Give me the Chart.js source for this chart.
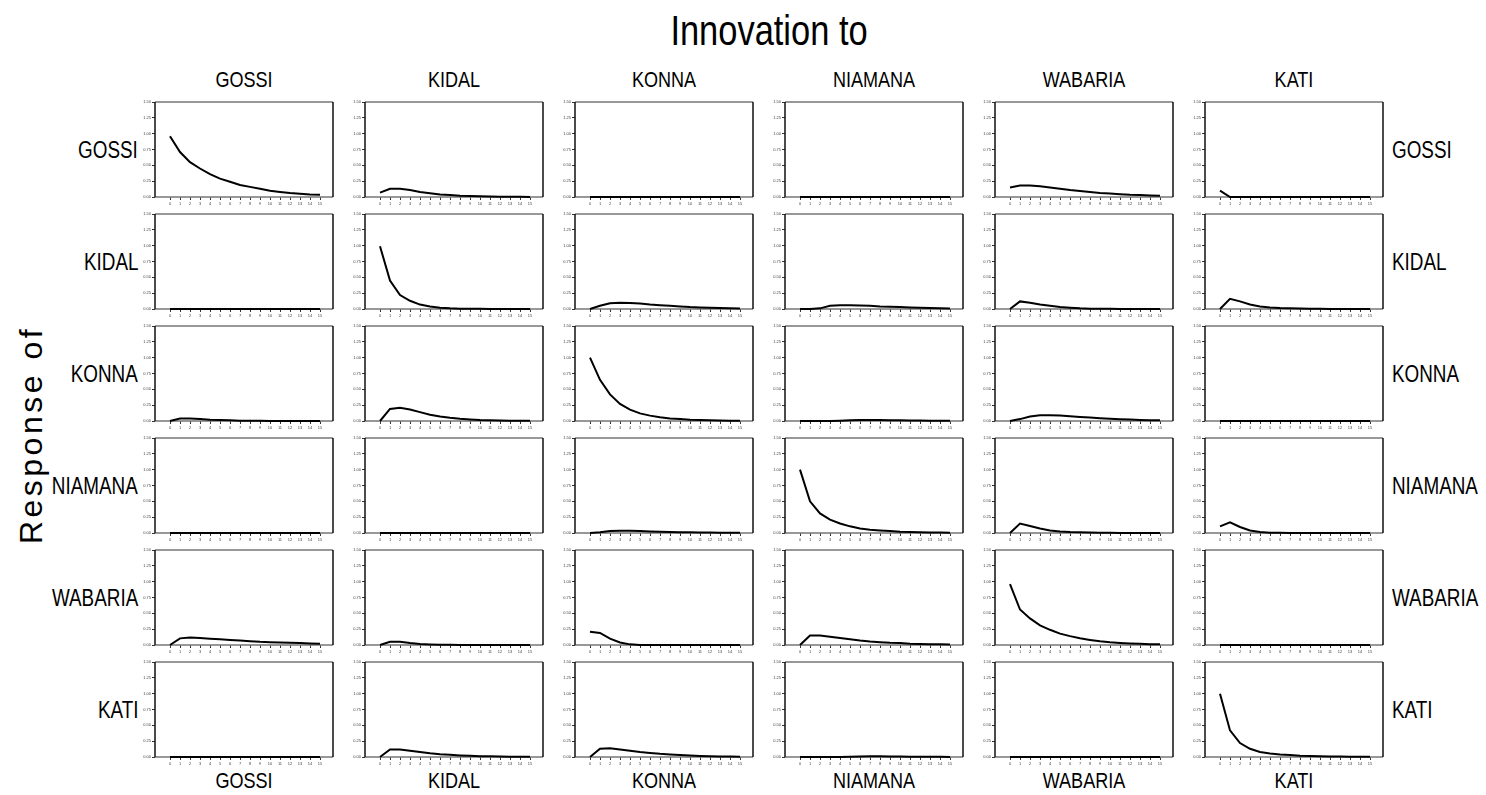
<!DOCTYPE html>
<html>
<head>
<meta charset="utf-8">
<title>Impulse responses</title>
<script src="https://cdn.jsdelivr.net/npm/chart.js@4.4.0/dist/chart.umd.min.js"></script>
<style>
  body { margin: 0; background: #fff; }
  #wrap { position: relative; width: 1486px; height: 795px; overflow: hidden;
          font-family: "Liberation Sans", Arial, sans-serif; color: #000; }
  .lbl { position: absolute; white-space: nowrap; line-height: 1; }
  .panel { position: absolute; }
</style>
</head>
<body>
<div id="wrap"></div>
<script>
// region names (rows = response of, columns = innovation to)
const regions = ["GOSSI", "KIDAL", "KONNA", "NIAMANA", "WABARIA", "KATI"];
const horizon = [0, 1, 2, 3, 4, 5, 6, 7, 8, 9, 10, 11, 12, 13, 14, 15];
const yTicks = [0, 0.25, 0.5, 0.75, 1.0, 1.25, 1.5];

// response of GOSSI to innovations in each region
const respGOSSI = [
  [0.96, 0.71, 0.55, 0.45, 0.36, 0.29, 0.24, 0.19, 0.16, 0.13, 0.10, 0.08, 0.063, 0.05, 0.04, 0.035],
  [0.07, 0.13, 0.13, 0.11, 0.08, 0.06, 0.04, 0.03, 0.02, 0.015, 0.01, 0.007, 0.005, 0.003, 0.002, 0.001],
  [0, 0, 0, 0, 0, 0, 0, 0, 0, 0, 0, 0, 0, 0, 0, 0],
  [0, 0, 0, 0, 0, 0, 0, 0, 0, 0, 0, 0, 0, 0, 0, 0],
  [0.15, 0.18, 0.18, 0.17, 0.15, 0.13, 0.11, 0.095, 0.08, 0.065, 0.055, 0.045, 0.035, 0.03, 0.025, 0.02],
  [0.10, 0, 0, 0, 0, 0, 0, 0, 0, 0, 0, 0, 0, 0, 0, 0]
];
// response of KIDAL
const respKIDAL = [
  [0, 0, 0, 0, 0, 0, 0, 0, 0, 0, 0, 0, 0, 0, 0, 0],
  [0.99, 0.45, 0.22, 0.13, 0.07, 0.04, 0.02, 0.01, 0.005, 0.003, 0.002, 0.001, 0, 0, 0, 0],
  [0, 0.05, 0.09, 0.10, 0.095, 0.085, 0.07, 0.06, 0.05, 0.04, 0.03, 0.025, 0.02, 0.015, 0.01, 0.008],
  [0, 0, 0.01, 0.05, 0.06, 0.06, 0.055, 0.05, 0.04, 0.035, 0.03, 0.025, 0.02, 0.015, 0.01, 0.008],
  [0, 0.12, 0.10, 0.07, 0.05, 0.03, 0.02, 0.01, 0.005, 0.003, 0.002, 0.001, 0, 0, 0, 0],
  [0, 0.16, 0.12, 0.07, 0.04, 0.025, 0.015, 0.01, 0.006, 0.004, 0.002, 0.001, 0, 0, 0, 0]
];
// response of KONNA
const respKONNA = [
  [0, 0.04, 0.04, 0.03, 0.02, 0.015, 0.01, 0.005, 0.003, 0.002, 0.001, 0, 0, 0, 0, 0],
  [0, 0.19, 0.21, 0.18, 0.14, 0.10, 0.07, 0.05, 0.035, 0.025, 0.015, 0.01, 0.007, 0.005, 0.003, 0.002],
  [1.0, 0.65, 0.42, 0.27, 0.18, 0.12, 0.085, 0.06, 0.04, 0.03, 0.02, 0.015, 0.01, 0.007, 0.005, 0.003],
  [0, 0, 0, 0, 0.005, 0.01, 0.015, 0.015, 0.015, 0.012, 0.01, 0.008, 0.006, 0.005, 0.004, 0.003],
  [0, 0.03, 0.07, 0.09, 0.09, 0.085, 0.075, 0.065, 0.055, 0.045, 0.035, 0.028, 0.022, 0.017, 0.013, 0.01],
  [0, 0, 0, 0, 0, 0, 0, 0, 0, 0, 0, 0, 0, 0, 0, 0]
];
// response of NIAMANA
const respNIAMANA = [
  [0, 0, 0, 0, 0, 0, 0, 0, 0, 0, 0, 0, 0, 0, 0, 0],
  [0, 0, 0, 0, 0, 0, 0, 0, 0, 0, 0, 0, 0, 0, 0, 0],
  [0, 0.01, 0.03, 0.035, 0.035, 0.03, 0.025, 0.02, 0.015, 0.012, 0.01, 0.008, 0.006, 0.005, 0.004, 0.003],
  [1.0, 0.5, 0.31, 0.21, 0.15, 0.105, 0.07, 0.05, 0.04, 0.03, 0.02, 0.015, 0.01, 0.008, 0.006, 0.005],
  [0, 0.15, 0.11, 0.07, 0.04, 0.025, 0.015, 0.01, 0.006, 0.004, 0.002, 0.001, 0, 0, 0, 0],
  [0.105, 0.17, 0.095, 0.04, 0.015, 0.005, 0.002, 0, 0, 0, 0, 0, 0, 0, 0, 0]
];
// response of WABARIA
const respWABARIA = [
  [0, 0.105, 0.12, 0.11, 0.10, 0.09, 0.08, 0.07, 0.06, 0.05, 0.045, 0.04, 0.035, 0.03, 0.025, 0.02],
  [0, 0.05, 0.05, 0.03, 0.015, 0.008, 0.004, 0.002, 0, 0, 0, 0, 0, 0, 0, 0],
  [0.21, 0.19, 0.10, 0.04, 0.01, 0, 0, 0, 0, 0, 0, 0, 0, 0, 0, 0],
  [0, 0.15, 0.15, 0.13, 0.11, 0.09, 0.07, 0.055, 0.045, 0.035, 0.03, 0.02, 0.015, 0.012, 0.01, 0.008],
  [0.96, 0.56, 0.42, 0.31, 0.24, 0.18, 0.14, 0.105, 0.08, 0.058, 0.042, 0.032, 0.025, 0.018, 0.013, 0.01],
  [0, 0, 0, 0, 0, 0, 0, 0, 0, 0, 0, 0, 0, 0, 0, 0]
];
// response of KATI
const respKATI = [
  [0, 0, 0, 0, 0, 0, 0, 0, 0, 0, 0, 0, 0, 0, 0, 0],
  [0, 0.12, 0.12, 0.10, 0.08, 0.06, 0.045, 0.035, 0.025, 0.018, 0.013, 0.01, 0.007, 0.005, 0.003, 0.002],
  [0, 0.13, 0.14, 0.12, 0.10, 0.08, 0.065, 0.05, 0.04, 0.03, 0.022, 0.016, 0.012, 0.009, 0.007, 0.005],
  [0, 0, 0, 0, 0, 0.005, 0.008, 0.01, 0.01, 0.008, 0.006, 0.005, 0.004, 0.003, 0.002, 0.001],
  [0, 0, 0, 0, 0, 0, 0, 0, 0, 0, 0, 0, 0, 0, 0, 0],
  [1.0, 0.42, 0.22, 0.13, 0.08, 0.055, 0.04, 0.03, 0.02, 0.015, 0.01, 0.008, 0.006, 0.004, 0.003, 0.002]
];

const responses = [respGOSSI, respKIDAL, respKONNA, respNIAMANA, respWABARIA, respKATI];

// layout
const colLeft = [155, 365, 575, 785, 995, 1205];
const rowTop = [102, 214, 326, 438, 550, 662];
const panelW = 178, panelH = 95;
const padL = 20, padT = 5, padR = 5, padB = 14;

const wrap = document.getElementById("wrap");

function addLabel(text, css, size, origin) {
  const d = document.createElement("div");
  d.className = "lbl";
  d.textContent = text;
  d.style.fontSize = size + "px";
  Object.assign(d.style, css);
  if (origin) d.style.transformOrigin = origin;
  wrap.appendChild(d);
  return d;
}

// titles
addLabel("Innovation to", { left: "769px", top: "31px", transform: "translate(-50%,-50%) scaleX(0.82)" }, 42);
addLabel("Response of", { left: "31px", top: "435px", letterSpacing: "3.5px",
  transform: "translate(-50%,-50%) rotate(-90deg)" }, 32);

regions.forEach((name, i) => {
  const cx = colLeft[i] + panelW / 2;
  addLabel(name, { left: cx + "px", top: "80px", transform: "translate(-50%,-50%) scaleX(0.82)" }, 22);
  addLabel(name, { left: cx + "px", top: "781px", transform: "translate(-50%,-50%) scaleX(0.82)" }, 22);
  const cy = rowTop[i] + panelH / 2;
  addLabel(name, { right: (1486 - 138) + "px", top: cy + "px", transform: "translateY(-50%) scaleX(0.82)" }, 23, "right center");
  addLabel(name, { left: "1392px", top: cy + "px", transform: "translateY(-50%) scaleX(0.82)" }, 23, "left center");
});

// frame around each plot area
const framePlugin = {
  id: "frame",
  beforeDatasetsDraw(chart) {
    const a = chart.chartArea;
    const ctx = chart.ctx;
    ctx.save();
    ctx.lineWidth = 1.5;
    ctx.strokeStyle = "#777";
    ctx.beginPath();
    ctx.moveTo(a.left, a.top); ctx.lineTo(a.right, a.top);
    ctx.moveTo(a.left, a.bottom); ctx.lineTo(a.right, a.bottom);
    ctx.stroke();
    ctx.strokeStyle = "#111";
    ctx.beginPath();
    ctx.moveTo(a.left, a.top); ctx.lineTo(a.left, a.bottom);
    ctx.moveTo(a.right, a.top); ctx.lineTo(a.right, a.bottom);
    ctx.stroke();
    ctx.restore();
  }
};

responses.forEach((rowData, r) => {
  rowData.forEach((series, c) => {
    const div = document.createElement("div");
    div.className = "panel";
    div.style.left = (colLeft[c] - padL) + "px";
    div.style.top = (rowTop[r] - padT) + "px";
    const cv = document.createElement("canvas");
    cv.width = panelW + padL + padR;
    cv.height = panelH + padT + padB;
    div.appendChild(cv);
    wrap.appendChild(div);

    new Chart(cv, {
      type: "line",
      data: {
        datasets: [{
          data: horizon.map((h, k) => ({ x: h, y: series[k] })),
          borderColor: "#000",
          borderWidth: 2,
          pointRadius: 0,
          tension: 0,
          clip: 4
        }]
      },
      options: {
        responsive: false,
        animation: false,
        layout: { padding: { top: padT, right: padR, left: 0, bottom: 0 } },
        plugins: { legend: { display: false }, tooltip: { enabled: false } },
        scales: {
          x: {
            type: "linear",
            min: -1.5,
            max: 16.3,
            afterBuildTicks: s => { s.ticks = horizon.map(v => ({ value: v })); },
            afterFit: s => { s.height = padB; },
            border: { display: false },
            grid: { drawOnChartArea: false, tickLength: 3, color: "#333" },
            ticks: { font: { size: 4 }, color: "#444", padding: 1, maxRotation: 0, autoSkip: false }
          },
          y: {
            min: 0,
            max: 1.5,
            afterBuildTicks: s => { s.ticks = yTicks.map(v => ({ value: v })); },
            afterFit: s => { s.width = padL; },
            border: { display: false },
            grid: { drawOnChartArea: false, tickLength: 3, color: "#333" },
            ticks: { font: { size: 4 }, color: "#444", padding: 1,
                     callback: v => v.toFixed(2) }
          }
        }
      },
      plugins: [framePlugin]
    });
  });
});
</script>
</body>
</html>
